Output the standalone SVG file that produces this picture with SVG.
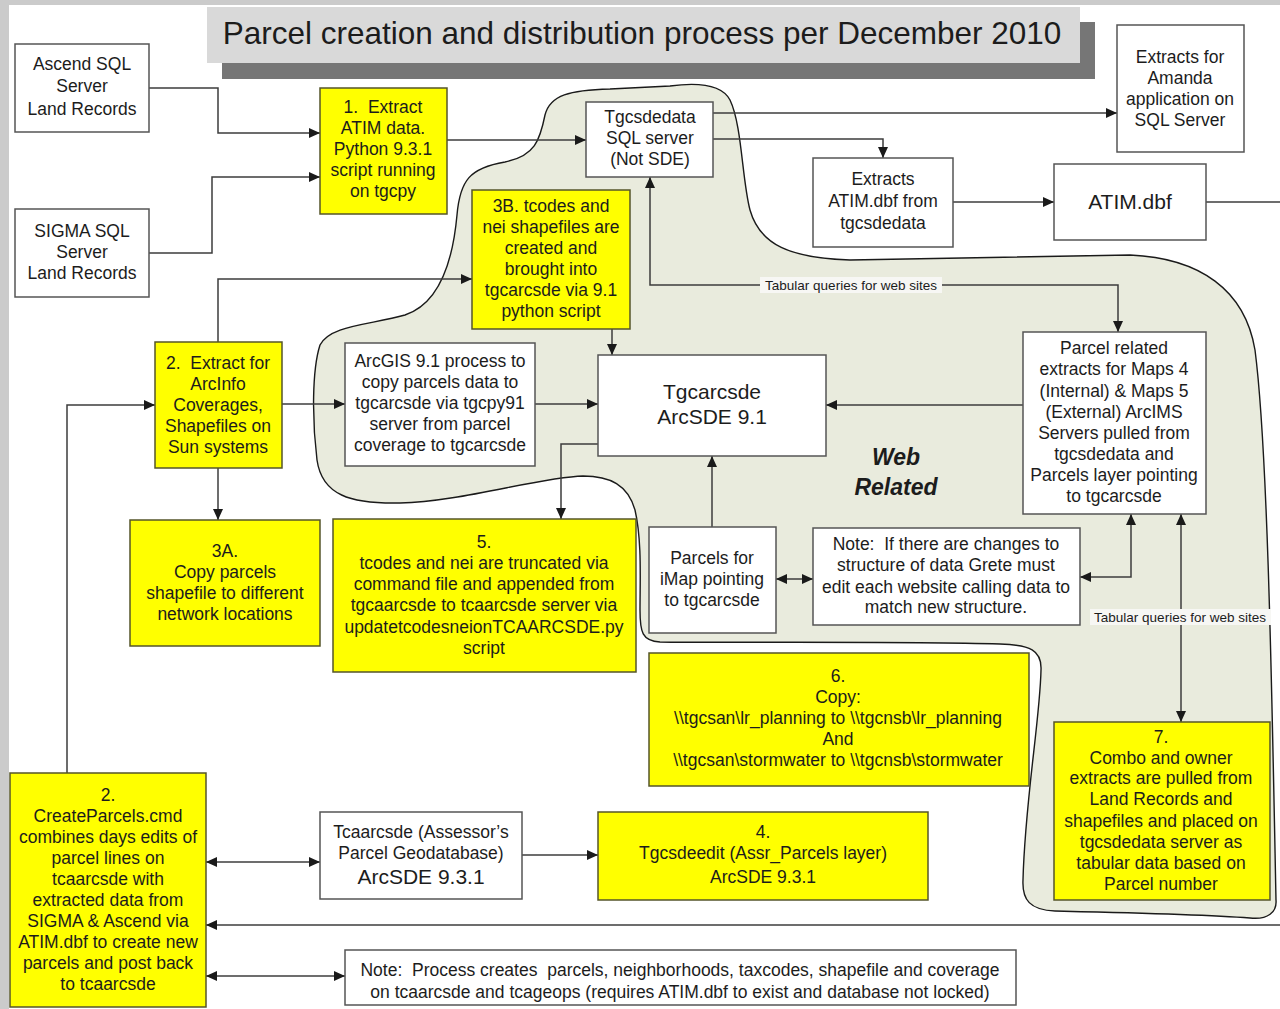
<svg xmlns="http://www.w3.org/2000/svg" width="1280" height="1009" viewBox="0 0 1280 1009">
<defs>
<marker id="ah" markerUnits="userSpaceOnUse" markerWidth="11" markerHeight="10" refX="11" refY="5" orient="auto-start-reverse" viewBox="0 0 11 10">
<path d="M0,0 L11,5 L0,10 z" fill="#1a1a1a"/>
</marker>
<style>
.bx{fill:#ffffff;stroke:#555555;stroke-width:1.5}
.yb{fill:#ffff00;stroke:#55552a;stroke-width:1.5}
text{font-family:"Liberation Sans",Arial,sans-serif;fill:#1c1c1c;text-anchor:middle;font-size:17.5px;white-space:pre}
.big{font-size:21px}
.lbl{font-size:13.5px}
.ln{fill:none;stroke:#3c3c3c;stroke-width:1.5}
.ea{marker-end:url(#ah)}
.ba{marker-start:url(#ah);marker-end:url(#ah)}
</style>
</defs>
<rect x="0" y="0" width="1280" height="1009" fill="#cbcbcb"/>
<rect x="9" y="5" width="1271" height="1004" fill="#ffffff"/>
<g id="title">
<rect x="222" y="22" width="873" height="57" fill="#767676"/>
<rect x="207" y="7" width="873" height="56" fill="#d9d9d9"/>
<text x="642" y="44" style="font-size:31.5px">Parcel creation and distribution process per December 2010</text>
</g>
<g id="web-related-area">
<path d="M457,215 C460,180 470,168 505,162 C535,156 540,140 545,115 C550,95 570,90 610,89 L670,86 C700,82 722,85 730,100 C742,125 742,180 750,210 C760,245 790,258 850,260 L1130,255 C1200,258 1245,290 1255,350 C1268,450 1272,700 1276,900 C1277,912 1268,920 1250,918 C1200,914 1100,912 1055,911 C1030,910 1022,900 1023,880 C1025,800 1040,720 1041,670 C1042,650 1030,645 1000,644 C900,641 720,643 660,642 C642,641 640,632 640,610 C640,580 642,540 635,510 C628,485 610,476 583,476 C540,477 460,502 400,503 C350,504 322,495 317,460 C312,420 312,370 320,345 C330,325 370,325 405,315 C435,305 452,270 457,215 Z" fill="#e9ebdd" stroke="#1a1a1a" stroke-width="1.4"/>
<text x="896" y="465" style="font-size:23px;font-weight:bold;font-style:italic">Web</text>
<text x="896" y="495" style="font-size:23px;font-weight:bold;font-style:italic">Related</text>
</g>
<g id="connectors">
<path class="ln ea" d="M149,88 H218 V133 H320"/>
<path class="ln ea" d="M149,253 H212 V177 H320"/>
<path class="ln ea" d="M447,140 H586"/>
<path class="ln ea" d="M713,113 H1117"/>
<path class="ln ea" d="M713,139 H883 V158"/>
<path class="ln ea" d="M953,202 H1054"/>
<path class="ln" d="M1206,202 H1280"/>
<path class="ln ea" d="M1280,925 H206"/>
<path class="ln ba" d="M650,177 V285 H1118 V332"/>
<path class="ln ea" d="M1023,405 H826"/>
<path class="ln ea" d="M612,329 V355"/>
<path class="ln ea" d="M535,404 H598"/>
<path class="ln ea" d="M282,404 H345"/>
<path class="ln ea" d="M598,444 H561 V519"/>
<path class="ln ea" d="M712,527 V456"/>
<path class="ln ba" d="M776,579 H813"/>
<path class="ln ba" d="M1131,514 V577 H1080"/>
<path class="ln ba" d="M1181,514 V722"/>
<path class="ln ea" d="M218,468 V520"/>
<path class="ln ea" d="M218,342 V279 H472"/>
<path class="ln ea" d="M67,773 V405 H155"/>
<path class="ln ba" d="M206,862 H320"/>
<path class="ln ea" d="M522,855 H598"/>
<path class="ln ba" d="M206,976 H345"/>
<rect x="760" y="277" width="182" height="16" fill="#f7f7f4"/>
<text class="lbl" x="851" y="290">Tabular queries for web sites</text>
<rect x="1090" y="609" width="181" height="16" fill="#f7f7f4"/>
<text class="lbl" x="1180" y="622">Tabular queries for web sites</text>
</g>
<g id="ascend">
<rect class="bx" x="15" y="44" width="134" height="88"/>
<text x="82" y="70">Ascend SQL</text><text x="82" y="92">Server</text><text x="82" y="115">Land Records</text>
</g>
<g id="sigma">
<rect class="bx" x="15" y="209" width="134" height="88"/>
<text x="82" y="237">SIGMA SQL</text><text x="82" y="258">Server</text><text x="82" y="279">Land Records</text>
</g>
<g id="step1">
<rect class="yb" x="320" y="88" width="127" height="126"/>
<text x="383" y="113">1.  Extract</text><text x="383" y="134">ATIM data.</text><text x="383" y="155">Python 9.3.1</text><text x="383" y="176">script running</text><text x="383" y="197">on tgcpy</text>
</g>
<g id="tgcsdedata">
<rect class="bx" x="586" y="102" width="127" height="75"/>
<text x="650" y="123">Tgcsdedata</text><text x="650" y="144">SQL server</text><text x="650" y="165">(Not SDE)</text>
</g>
<g id="amanda">
<rect class="bx" x="1117" y="25" width="127" height="127"/>
<text x="1180" y="63">Extracts for</text><text x="1180" y="84">Amanda</text><text x="1180" y="105">application on</text><text x="1180" y="126">SQL Server</text>
</g>
<g id="extracts-atim">
<rect class="bx" x="813" y="158" width="140" height="89"/>
<text x="883" y="185">Extracts</text><text x="883" y="207">ATIM.dbf from</text><text x="883" y="229">tgcsdedata</text>
</g>
<g id="atim-dbf">
<rect class="bx" x="1054" y="164" width="152" height="76"/>
<text class="big" x="1130" y="209">ATIM.dbf</text>
</g>
<g id="step3b">
<rect class="yb" x="472" y="190" width="158" height="139"/>
<text x="551" y="212">3B. tcodes and</text><text x="551" y="233">nei shapefiles are</text><text x="551" y="254">created and</text><text x="551" y="275">brought into</text><text x="551" y="296">tgcarcsde via 9.1</text><text x="551" y="317">python script</text>
</g>
<g id="parcel-related">
<rect class="bx" x="1023" y="332" width="183" height="182"/>
<text x="1114" y="354">Parcel related</text><text x="1114" y="375">extracts for Maps 4</text><text x="1114" y="397">(Internal) &amp; Maps 5</text><text x="1114" y="418">(External) ArcIMS</text><text x="1114" y="439">Servers pulled from</text><text x="1114" y="460">tgcsdedata and</text><text x="1114" y="481">Parcels layer pointing</text><text x="1114" y="502">to tgcarcsde</text>
</g>
<g id="tgcarcsde">
<rect class="bx" x="598" y="355" width="228" height="101"/>
<text class="big" x="712" y="399">Tgcarcsde</text><text class="big" x="712" y="424">ArcSDE 9.1</text>
</g>
<g id="arcgis">
<rect class="bx" x="345" y="343" width="190" height="123"/>
<text x="440" y="367">ArcGIS 9.1 process to</text><text x="440" y="388">copy parcels data to</text><text x="440" y="409">tgcarcsde via tgcpy91</text><text x="440" y="430">server from parcel</text><text x="440" y="451">coverage to tgcarcsde</text>
</g>
<g id="step2-extract">
<rect class="yb" x="155" y="342" width="127" height="126"/>
<text x="218" y="369">2.  Extract for</text><text x="218" y="390">ArcInfo</text><text x="218" y="411">Coverages,</text><text x="218" y="432">Shapefiles on</text><text x="218" y="453">Sun systems</text>
</g>
<g id="step3a">
<rect class="yb" x="130" y="520" width="190" height="126"/>
<text x="225" y="557">3A.</text><text x="225" y="578">Copy parcels</text><text x="225" y="599">shapefile to different</text><text x="225" y="620">network locations</text>
</g>
<g id="step5">
<rect class="yb" x="333" y="519" width="303" height="153"/>
<text x="484" y="548">5.</text><text x="484" y="569">tcodes and nei are truncated via</text><text x="484" y="590">command file and appended from</text><text x="484" y="611">tgcaarcsde to tcaarcsde server via</text><text x="484" y="633">updatetcodesneionTCAARCSDE.py</text><text x="484" y="654">script</text>
</g>
<g id="imap">
<rect class="bx" x="649" y="527" width="127" height="106"/>
<text x="712" y="564">Parcels for</text><text x="712" y="585">iMap pointing</text><text x="712" y="606">to tgcarcsde</text>
</g>
<g id="note-web">
<rect class="bx" x="813" y="528" width="267" height="97"/>
<text x="946" y="550">Note:  If there are changes to</text><text x="946" y="571">structure of data Grete must</text><text x="946" y="593">edit each website calling data to</text><text x="946" y="613">match new structure.</text>
</g>
<g id="step6">
<rect class="yb" x="649" y="653" width="380" height="133"/>
<text x="838" y="682">6.</text><text x="838" y="703">Copy:</text><text x="838" y="724">\\tgcsan\lr_planning to \\tgcnsb\lr_planning</text><text x="838" y="745">And</text><text x="838" y="766">\\tgcsan\stormwater to \\tgcnsb\stormwater</text>
</g>
<g id="step7">
<rect class="yb" x="1054" y="722" width="216" height="178"/>
<text x="1161" y="743">7.</text><text x="1161" y="764">Combo and owner</text><text x="1161" y="784">extracts are pulled from</text><text x="1161" y="805">Land Records and</text><text x="1161" y="827">shapefiles and placed on</text><text x="1161" y="848">tgcsdedata server as</text><text x="1161" y="869">tabular data based on</text><text x="1161" y="890">Parcel number</text>
</g>
<g id="step2-create">
<rect class="yb" x="10" y="773" width="196" height="234"/>
<text x="108" y="801">2.</text><text x="108" y="822">CreateParcels.cmd</text><text x="108" y="843">combines days edits of</text><text x="108" y="864">parcel lines on</text><text x="108" y="885">tcaarcsde with</text><text x="108" y="906">extracted data from</text><text x="108" y="927">SIGMA &amp; Ascend via</text><text x="108" y="948">ATIM.dbf to create new</text><text x="108" y="969">parcels and post back</text><text x="108" y="990">to tcaarcsde</text>
</g>
<g id="tcaarcsde">
<rect class="bx" x="320" y="812" width="202" height="87"/>
<text x="421" y="838">Tcaarcsde (Assessor’s</text><text x="421" y="859">Parcel Geodatabase)</text><text class="big" x="421" y="884">ArcSDE 9.3.1</text>
</g>
<g id="step4">
<rect class="yb" x="598" y="812" width="330" height="88"/>
<text x="763" y="838">4.</text><text x="763" y="859">Tgcsdeedit (Assr_Parcels layer)</text><text x="763" y="883">ArcSDE 9.3.1</text>
</g>
<g id="note-process">
<rect class="bx" x="345" y="950" width="671" height="55"/>
<text x="680" y="976">Note:  Process creates  parcels, neighborhoods, taxcodes, shapefile and coverage</text><text x="680" y="998">on tcaarcsde and tcageops (requires ATIM.dbf to exist and database not locked)</text>
</g>
</svg>
